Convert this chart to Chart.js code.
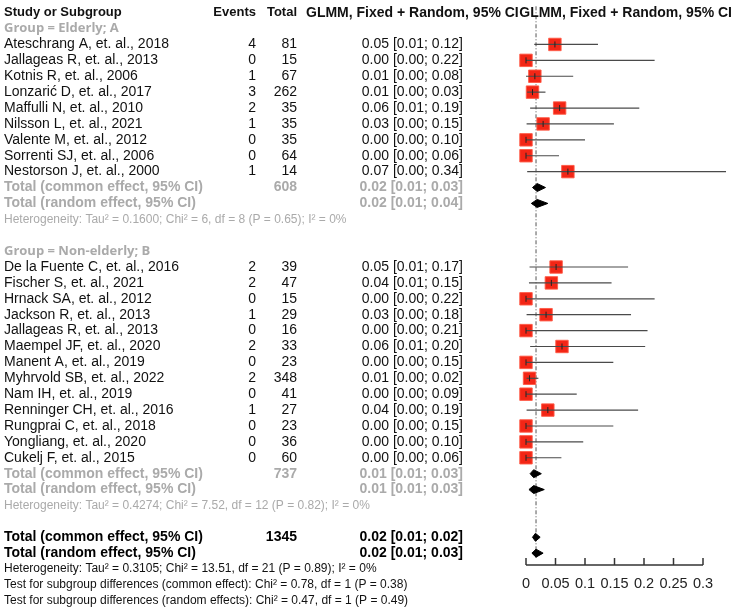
<!DOCTYPE html>
<html>
<head>
<meta charset="utf-8">
<script src="https://cdn.jsdelivr.net/npm/chart.js@4.4.1/dist/chart.umd.min.js"></script>
<style>
  html, body { margin: 0; padding: 0; background: #fff; }
  #wrap { width: 740px; height: 611px; position: relative; }
</style>
</head>
<body>
<div id="wrap"><canvas id="c"></canvas></div>
<script>
// ---------------- DATA ----------------
const studiesA = ["Ateschrang A, et. al., 2018","Jallageas R, et. al., 2013","Kotnis R, et. al., 2006","Lonzarić D, et. al., 2017","Maffulli N, et. al., 2010","Nilsson L, et. al., 2021","Valente M, et. al., 2012","Sorrenti SJ, et. al., 2006","Nestorson J, et. al., 2000"];
const eventsA = [4, 0, 1, 3, 2, 1, 0, 0, 1];
const totalA = [81, 15, 67, 262, 35, 35, 35, 64, 14];
const estA = [0.049, 0.000, 0.015, 0.011, 0.057, 0.029, 0.000, 0.000, 0.071];
const loA  = [0.014, 0.000, 0.000, 0.002, 0.007, 0.001, 0.000, 0.000, 0.002];
const hiA  = [0.122, 0.218, 0.080, 0.033, 0.192, 0.149, 0.100, 0.056, 0.339];
const ciTextA = ["0.05 [0.01; 0.12]","0.00 [0.00; 0.22]","0.01 [0.00; 0.08]","0.01 [0.00; 0.03]","0.06 [0.01; 0.19]","0.03 [0.00; 0.15]","0.00 [0.00; 0.10]","0.00 [0.00; 0.06]","0.07 [0.00; 0.34]"];

const studiesB = ["De la Fuente C, et. al., 2016","Fischer S, et. al., 2021","Hrnack SA, et. al., 2012","Jackson R, et. al., 2013","Jallageas R, et. al., 2013","Maempel JF, et. al., 2020","Manent A, et. al., 2019","Myhrvold SB, et. al., 2022","Nam IH, et. al., 2019","Renninger CH, et. al., 2016","Rungprai C, et. al., 2018","Yongliang, et. al., 2020","Cukelj F, et. al., 2015"];
const eventsB = [2, 2, 0, 1, 0, 2, 0, 2, 0, 1, 0, 0, 0];
const totalB = [39, 47, 15, 29, 16, 33, 23, 348, 41, 27, 23, 36, 60];
const estB = [0.051, 0.043, 0.000, 0.034, 0.000, 0.061, 0.000, 0.006, 0.000, 0.037, 0.000, 0.000, 0.000];
const loB  = [0.006, 0.005, 0.000, 0.001, 0.000, 0.007, 0.000, 0.001, 0.000, 0.001, 0.000, 0.000, 0.000];
const hiB  = [0.173, 0.145, 0.218, 0.178, 0.206, 0.202, 0.148, 0.021, 0.086, 0.190, 0.148, 0.097, 0.060];
const ciTextB = ["0.05 [0.01; 0.17]","0.04 [0.01; 0.15]","0.00 [0.00; 0.22]","0.03 [0.00; 0.18]","0.00 [0.00; 0.21]","0.06 [0.01; 0.20]","0.00 [0.00; 0.15]","0.01 [0.00; 0.02]","0.00 [0.00; 0.09]","0.04 [0.00; 0.19]","0.00 [0.00; 0.15]","0.00 [0.00; 0.10]","0.00 [0.00; 0.06]"];

// pooled estimates: [common, random] per group, then overall
const pooledLabels = ["Total (common effect, 95% CI)", "Total (random effect, 95% CI)"];
const pooledA = { n: [608, null], est: [0.019, 0.019], lo: [0.011, 0.009], hi: [0.033, 0.037], text: ["0.02 [0.01; 0.03]", "0.02 [0.01; 0.04]"] };
const pooledB = { n: [737, null], est: [0.013, 0.013], lo: [0.007, 0.005], hi: [0.026, 0.031], text: ["0.01 [0.01; 0.03]", "0.01 [0.01; 0.03]"] };
const pooledAll = { n: [1345, null], est: [0.016, 0.017], lo: [0.011, 0.010], hi: [0.024, 0.029], text: ["0.02 [0.01; 0.02]", "0.02 [0.01; 0.03]"] };
const refLine = 0.017;

const groupLabels = ["Group = Elderly; A", "Group = Non-elderly; B"];
const hetA = "Heterogeneity: Tau² = 0.1600; Chi² = 6, df = 8 (P = 0.65); I² = 0%";
const hetB = "Heterogeneity: Tau² = 0.4274; Chi² = 7.52, df = 12 (P = 0.82); I² = 0%";
const hetAll = "Heterogeneity: Tau² = 0.3105; Chi² = 13.51, df = 21 (P = 0.89); I² = 0%";
const testCommon = "Test for subgroup differences (common effect): Chi² = 0.78, df = 1 (P = 0.38)";
const testRandom = "Test for subgroup differences (random effects): Chi² = 0.47, df = 1 (P = 0.49)";
const headers = ["Study or Subgroup", "Events", "Total", "GLMM, Fixed + Random, 95% CI", "GLMM, Fixed + Random, 95% CI"];
const xTicks = [0, 0.05, 0.1, 0.15, 0.2, 0.25, 0.3];

// ---------------- ROW LAYOUT ----------------
const rowGroupA = 1;
const rowStudiesA = studiesA.map((_, i) => 2 + i);
const rowPooledA = [2 + studiesA.length, 3 + studiesA.length];
const rowHetA = rowPooledA[1] + 1;
const rowGroupB = rowHetA + 2;
const rowStudiesB = studiesB.map((_, i) => rowGroupB + 1 + i);
const rowPooledB = [rowGroupB + 1 + studiesB.length, rowGroupB + 2 + studiesB.length];
const rowHetB = rowPooledB[1] + 1;
const rowPooledAll = [rowHetB + 2, rowHetB + 3];
const rowHetAll = rowPooledAll[1] + 1;

// ---------------- DATASETS ----------------
const RED = 'rgb(243,38,22)';
const datasets = [];
function addCI(est, lo, hi, rows) {
  est.forEach((e, i) => {
    datasets.push({ type: 'scatter', showLine: true, data: [{x: lo[i], y: rows[i]}, {x: hi[i], y: rows[i]}],
      borderColor: '#4a4a4a', borderWidth: 1.2, pointRadius: 0, clip: false, order: 2 });
  });
}
addCI(estA, loA, hiA, rowStudiesA);
addCI(estB, loB, hiB, rowStudiesB);
const sqData = estA.map((e, i) => ({x: e, y: rowStudiesA[i]})).concat(estB.map((e, i) => ({x: e, y: rowStudiesB[i]})));
datasets.push({ type: 'scatter', data: sqData, pointStyle: 'rect', pointRadius: 8.8, pointHoverRadius: 8.8,
  backgroundColor: RED, borderColor: 'rgba(255,90,70,0.9)', borderWidth: 1, clip: false, order: 3 });
datasets.push({ type: 'scatter', data: sqData, pointStyle: 'line', rotation: 90, pointRadius: 3, pointHoverRadius: 3,
  borderColor: '#222', borderWidth: 1, clip: false, order: 1 });

const DH = 0.25; // diamond half-height in rows
function addDiamonds(p, rows) {
  p.est.forEach((e, i) => {
    datasets.push({ type: 'scatter', showLine: true, fill: 'shape', tension: 0,
      data: [{x: p.lo[i], y: rows[i]}, {x: e, y: rows[i] - DH}, {x: p.hi[i], y: rows[i]}, {x: e, y: rows[i] + DH}, {x: p.lo[i], y: rows[i]}],
      borderColor: '#000', backgroundColor: '#000', borderWidth: 1, pointRadius: 0, clip: false, order: 1 });
  });
}
addDiamonds(pooledA, rowPooledA);
addDiamonds(pooledB, rowPooledB);
addDiamonds(pooledAll, rowPooledAll);

datasets.push({ type: 'scatter', showLine: true, data: [{x: refLine, y: -0.4}, {x: refLine, y: rowPooledAll[1] + 0.3}],
  borderColor: '#555', borderWidth: 1, borderDash: [4, 2, 1, 2], pointRadius: 0, clip: false, order: 4 });

// ---------------- TEXT PLUGIN ----------------
const textPlugin = {
  id: 'forestText',
  afterDraw(chart) {
    const ctx = chart.ctx, ys = chart.scales.y, xs = chart.scales.x;
    const Y = r => ys.getPixelForValue(r);
    const F = "'Liberation Sans', Arial, sans-serif";
    function t(str, x, r, align, font, color) {
      ctx.font = font; ctx.fillStyle = color; ctx.textAlign = align; ctx.textBaseline = 'middle';
      ctx.fillText(str, x, Y(r));
    }
    ctx.save();
    ctx.setLineDash([]);
    // x axis line with upward tick marks
    ctx.strokeStyle = '#333'; ctx.lineWidth = 1.5;
    const yb = Math.round(chart.chartArea.bottom);
    const x0 = xs.getPixelForValue(xTicks[0]), x1 = xs.getPixelForValue(xTicks[xTicks.length - 1]);
    ctx.beginPath(); ctx.moveTo(x0, yb); ctx.lineTo(x1, yb); ctx.stroke();
    xTicks.forEach(v => {
      const px = xs.getPixelForValue(v);
      ctx.beginPath(); ctx.moveTo(px, yb); ctx.lineTo(px, yb - 7); ctx.stroke();
    });

    const hb = "bold 13px " + F;
    t(headers[0], 4, 0, 'left', hb, '#111');
    t(headers[1], 256, 0, 'right', hb, '#111');
    t(headers[2], 297, 0, 'right', hb, '#111');
    t(headers[3], 306, 0, 'left', "bold 14px " + F, '#111');
    t(headers[4], 732, 0, 'right', "bold 14px " + F, '#111');

    const reg = "14px " + F, bold = "bold 14px " + F, small = "12px " + F;
    const GREY = '#aaaaaa';
    function group(label, rowG, studies, ev, tot, ct, rows, pooled, rowsP, het, rowH) {
      t(label, 4, rowG, 'left', "bold 13px 'Open Sans', " + F, GREY);
      studies.forEach((s, i) => {
        t(s, 4, rows[i], 'left', reg, '#111');
        t(String(ev[i]), 256, rows[i], 'right', reg, '#111');
        t(String(tot[i]), 297, rows[i], 'right', reg, '#111');
        t(ct[i], 463, rows[i], 'right', reg, '#111');
      });
      pooled.text.forEach((s, i) => {
        t(pooledLabels[i], 4, rowsP[i], 'left', bold, GREY);
        if (pooled.n[i] !== null) t(String(pooled.n[i]), 297, rowsP[i], 'right', bold, GREY);
        t(s, 463, rowsP[i], 'right', bold, GREY);
      });
      t(het, 4, rowH, 'left', small, GREY);
    }
    group(groupLabels[0], rowGroupA, studiesA, eventsA, totalA, ciTextA, rowStudiesA, pooledA, rowPooledA, hetA, rowHetA);
    group(groupLabels[1], rowGroupB, studiesB, eventsB, totalB, ciTextB, rowStudiesB, pooledB, rowPooledB, hetB, rowHetB);
    pooledAll.text.forEach((s, i) => {
      t(pooledLabels[i], 4, rowPooledAll[i], 'left', bold, '#000');
      if (pooledAll.n[i] !== null) t(String(pooledAll.n[i]), 297, rowPooledAll[i], 'right', bold, '#000');
      t(s, 463, rowPooledAll[i], 'right', bold, '#000');
    });
    t(hetAll, 4, rowHetAll, 'left', small, '#111');
    t(testCommon, 4, rowHetAll + 1, 'left', small, '#111');
    t(testRandom, 4, rowHetAll + 2, 'left', small, '#111');
    ctx.restore();
  }
};

new Chart(document.getElementById('c'), {
  type: 'scatter',
  data: { datasets },
  options: {
    responsive: true, maintainAspectRatio: false, animation: false,
    events: [],
    layout: { padding: { left: 526, right: 37, top: 3, bottom: 7 } },
    plugins: { legend: { display: false }, tooltip: { enabled: false } },
    scales: {
      x: {
        type: 'linear', min: 0, max: 0.3,
        afterBuildTicks: axis => { axis.ticks = xTicks.map(v => ({ value: v })); },
        ticks: { color: '#222', font: { size: 14.5, family: "'Liberation Sans', Arial, sans-serif" }, padding: 11, maxRotation: 0, autoSkip: false,
          callback: v => String(v) },
        grid: { display: false, drawTicks: false },
        border: { display: false }
      },
      y: {
        type: 'linear', display: false, reverse: true, min: -0.18, max: rowPooledAll[1] + 0.72
      }
    }
  },
  plugins: [textPlugin]
});
</script>
</body>
</html>
